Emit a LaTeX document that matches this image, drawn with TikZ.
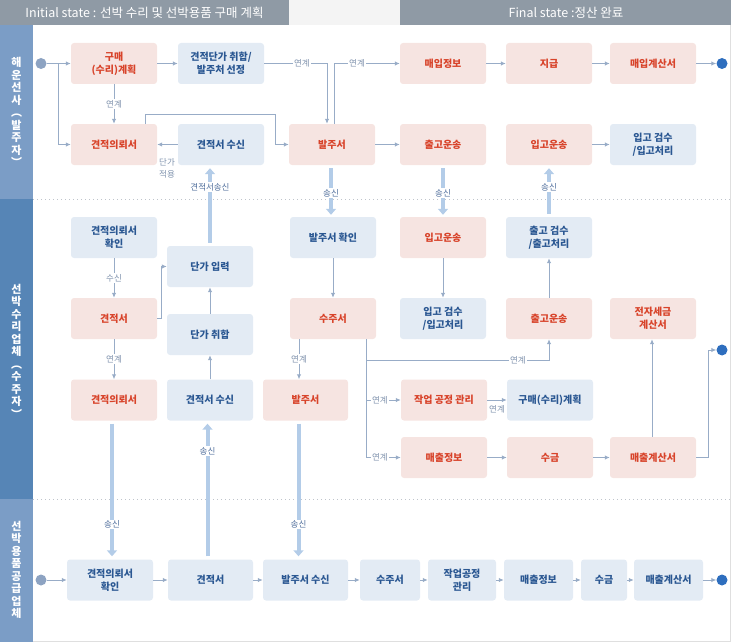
\documentclass[tikz,border=0pt]{standalone}
\usepackage{fontspec}
\setmainfont{Noto Sans CJK KR}
\usetikzlibrary{arrows.meta,calc}
\definecolor{pinkfill}{HTML}{F6E4E1}
\definecolor{redtxt}{HTML}{D8432A}
\definecolor{bluefill}{HTML}{E3EBF4}
\definecolor{bluetxt}{HTML}{2A5792}
\definecolor{lineC}{HTML}{98ACC7}
\definecolor{lblC}{HTML}{7F92AD}
\definecolor{slblC}{HTML}{4F6E9C}
\definecolor{thickC}{HTML}{B3CCE8}
\definecolor{startC}{HTML}{8DA3C2}
\definecolor{endC}{HTML}{2E6EBE}
\definecolor{hdr}{HTML}{8F9AA5}
\definecolor{hdrgap}{HTML}{F4F4F4}
\definecolor{laneA}{HTML}{7B9DC6}
\definecolor{laneB}{HTML}{5685B6}
\definecolor{sepC}{HTML}{BFC4CB}
\begin{document}
\begin{tikzpicture}[x=1pt,y=-1pt,
  box/.style={rounded corners=3pt, minimum width=86pt, minimum height=41pt, inner sep=1pt, align=center, font=\fontsize{10}{13}\selectfont\bfseries},
  pk/.style={box, fill=pinkfill, text=redtxt},
  bl/.style={box, fill=bluefill, text=bluetxt},
  conn/.style={draw=lineC, line width=1pt, -{Latex[length=5pt,width=4.5pt]}},
  fat/.style={draw=thickC, line width=4pt, -{Triangle[length=6pt,width=10pt]}},
  lbl/.style={fill=white, text=lblC, font=\fontsize{8.5}{10}\selectfont, inner sep=1pt},
  slbl/.style={fill=white, text=slblC, font=\fontsize{8.5}{10}\selectfont, inner sep=1pt},
  startc/.style={circle, fill=startC, minimum size=11pt, inner sep=0pt},
  endc/.style={circle, fill=endC, minimum size=11pt, inner sep=0pt},
  hdrtxt/.style={text=white, font=\fontsize{12.5}{14}\selectfont},
  lanetxt/.style={text=white, align=center, font=\fontsize{11}{12.5}\selectfont\bfseries}
]
\useasboundingbox (0,0) rectangle (731,642);
% header
\fill[hdr] (0,0) rectangle (289,25);
\fill[hdrgap] (289,0) rectangle (400,25);
\fill[hdr] (400,0) rectangle (731,25);
\node[hdrtxt] (h1) at (144.5,12.5) {Initial state : 선박 수리 및 선박용품 구매 계획};
\node[hdrtxt] (h2) at (566,12.5) {Final state :정산 완료};
% lanes
\fill[laneA] (0,25) rectangle (33,199);
\fill[laneB] (0,199) rectangle (33,499);
\fill[laneA] (0,499) rectangle (33,642);
\node[lanetxt] (L1) at (16.5,112) {해\\운\\선\\사\\︵\\발\\주\\자\\︶};
\node[lanetxt] (L2) at (16.5,351) {선\\박\\수\\리\\업\\체\\︵\\수\\주\\자\\︶};
\node[lanetxt] (L3) at (16.5,570) {선\\박\\용\\품\\공\\급\\업\\체};
\draw[sepC, line width=0.8pt, dash pattern=on 1pt off 3pt] (33,199) -- (731,199);
\draw[sepC, line width=0.8pt, dash pattern=on 1pt off 3pt] (33,499) -- (731,499);
\draw[gray!25, line width=1pt] (730.5,25) -- (730.5,641.5) -- (33,641.5);

% lane 1 nodes
\node[startc] (S1) at (41,63.5) {};
\node[pk] (A1) at (114,63.5) {구매\\(수리)계획};
\node[bl] (A2) at (221,63.5) {견적단가 취합/\\발주처 선정};
\node[pk] (A3) at (114,144.5) {견적의뢰서};
\node[bl] (A4) at (221,144.5) {견적서 수신};
\node[pk] (A5) at (332,144.5) {발주서};
\node[pk] (A6) at (443,63.5) {매입정보};
\node[pk] (A7) at (549,63.5) {지급};
\node[pk] (A8) at (653,63.5) {매입계산서};
\node[pk] (A9) at (443,144.5) {출고운송};
\node[pk] (A10) at (549,144.5) {입고운송};
\node[bl] (A11) at (653,144.5) {입고 검수\\/입고처리};
\node[endc] (E1) at (722,63.5) {};

% lane 2 nodes
\node[bl] (B1) at (114,237.5) {견적의뢰서\\확인};
\node[bl] (B2) at (210,266.5) {단가 입력};
\node[pk] (B3) at (114,318.5) {견적서};
\node[bl] (B4) at (210,334.5) {단가 취합};
\node[pk] (B5) at (114,400) {견적의뢰서};
\node[bl] (B6) at (210,400) {견적서 수신};
\node[bl] (B7) at (333,237.5) {발주서 확인};
\node[pk] (B8) at (333,318.5) {수주서};
\node[pk, minimum width=85pt] (B9) at (305.5,400) {발주서};
\node[pk] (B10) at (443,237.5) {입고운송};
\node[bl] (B11) at (549,237.5) {출고 검수\\/출고처리};
\node[bl] (B12) at (443,318.5) {입고 검수\\/입고처리};
\node[pk] (B13) at (549,318.5) {출고운송};
\node[pk] (B14) at (653,318.5) {전자세금\\계산서};
\node[pk] (B15) at (444,400) {작업 공정 관리};
\node[bl] (B16) at (550,400) {구매(수리)계획};
\node[pk] (B17) at (444,457.5) {매출정보};
\node[pk] (B18) at (550,457.5) {수금};
\node[pk] (B19) at (653,457.5) {매출계산서};
\node[endc] (E2) at (722,350) {};

% lane 3 nodes
\node[startc] (S3) at (41,580) {};
\node[bl] (C1) at (110,580) {견적의뢰서\\확인};
\node[bl, minimum width=85pt] (C2) at (210.5,580) {견적서};
\node[bl, minimum width=85pt] (C3) at (305.5,580) {발주서 수신};
\node[bl, minimum width=60pt] (C4) at (390,580) {수주서};
\node[bl, minimum width=68pt] (C5) at (462,580) {작업공정\\관리};
\node[bl, minimum width=69pt] (C6) at (538.5,580) {매출정보};
\node[bl, minimum width=46pt] (C7) at (604,580) {수금};
\node[bl, minimum width=69pt] (C8) at (668.5,580) {매출계산서};
\node[endc] (E3) at (722,580) {};

% lane 1 connectors
\coordinate (j1) at (58,63.5);
\coordinate (k1) at (275,114);
\draw[conn] (S1) -- (A1.west);
\draw[conn] (j1) |- (A3.west);
\draw[conn] (A1) -- (A3) node[midway, lbl]{연계};
\draw[conn] (A1) -- (A2);
\draw[conn] (A2.east) -| ([xshift=-5pt]A5.north) node[pos=0.3, lbl]{연계};
\draw[conn] ([xshift=2pt]A5.north) |- (A6.west) node[pos=0.675, lbl]{연계};
\draw[conn] (A6) -- (A7);
\draw[conn] (A7) -- (A8);
\draw[conn] (A8) -- (E1);
\draw[conn] (A4) -- (A3);
\node[lbl, align=center, fill=none, font=\fontsize{8.5}{12}\selectfont] (t1) at (167,168) {단가\\적용};
\draw[conn] ([xshift=31pt]A3.north) |- (k1) |- (A5.west);
\draw[conn] (A5) -- (A9);
\draw[conn] (A10) -- (A11);

% lane 2 connectors
\draw[conn] (B1) -- (B3) node[midway, lbl]{수신};
\draw[conn] (B3.east) -- ++(4,0) |- (B2.west);
\draw[conn] (B3) -- (B5) node[midway, lbl]{연계};
\draw[conn] (B6) -- (B4);
\draw[conn] (B4) -- (B2);
\draw[conn] (B7) -- (B8);
\draw[conn] ([xshift=-34pt]B8.south) -- ([xshift=-34pt]B8.south |- B9.north) node[midway, lbl]{연계};
\coordinate (tr) at ([xshift=33pt]B8.south);
\coordinate (tr1) at ($(tr)+(0,21)$);
\coordinate (tr2) at (tr |- B15.west);
\draw[conn] (tr) |- (B17.west) node[pos=0.7, lbl]{연계};
\draw[conn] (tr2) -- (B15.west) node[pos=0.4, lbl]{연계};
\draw[conn] (tr1) -| (B13.south) node[pos=0.415, lbl]{연계};
\draw[conn] (B10) -- (B12);
\draw[conn] (B13) -- (B11);
\draw[conn] (B15) -- (B16) node[midway, below=4pt, lbl, fill=none]{연계};
\draw[conn] (B17) -- (B18);
\draw[conn] (B18) -- (B19);
\draw[conn] ([xshift=-1pt]B19.north) -- ([xshift=-1pt]B14.south);
\draw[conn] (B19.east) -- ++(12,0) |- (E2.west);

% lane 3 connectors
\draw[conn] (S3) -- (C1);
\draw[conn] (C1) -- (C2);
\draw[conn] (C2) -- (C3);
\draw[conn] (C3) -- (C4);
\draw[conn] (C4) -- (C5);
\draw[conn] (C5) -- (C6);
\draw[conn] (C6) -- (C7);
\draw[conn] (C7) -- (C8);
\draw[conn] (C8) -- (E3);

% thick transfer arrows
\draw[fat, shorten <=3pt, shorten >=2pt] ([xshift=-1pt]A5.south) -- ([xshift=-1pt]A5.south |- B7.north) node[pos=0.54, slbl]{송신};
\draw[fat, shorten <=3pt, shorten >=2pt] (A9.south) -- (A9.south |- B10.north) node[pos=0.54, slbl]{송신};
\draw[fat, shorten <=3pt, shorten >=3pt] (B11.north) -- (B11.north |- A10.south) node[pos=0.58, slbl]{송신};
\draw[fat, shorten <=3pt, shorten >=3pt] (B2.north) -- (B2.north |- A4.south) node[pos=0.73, slbl]{견적서송신};
\draw[fat, shorten <=3pt, shorten >=3pt] ([xshift=-2pt]B5.south) -- ([xshift=-2pt]B5.south |- C1.north) node[pos=0.75, slbl]{송신};
\draw[fat, shorten <=3pt, shorten >=3pt] ([xshift=-3pt]C2.north) -- ([xshift=-3pt]C2.north |- B6.south) node[pos=0.78, slbl]{송신};
\draw[fat, shorten <=3pt, shorten >=3pt] ([xshift=-7pt]B9.south) -- ([xshift=-7pt]B9.south |- C3.north) node[pos=0.75, slbl]{송신};
\end{tikzpicture}
\end{document}
